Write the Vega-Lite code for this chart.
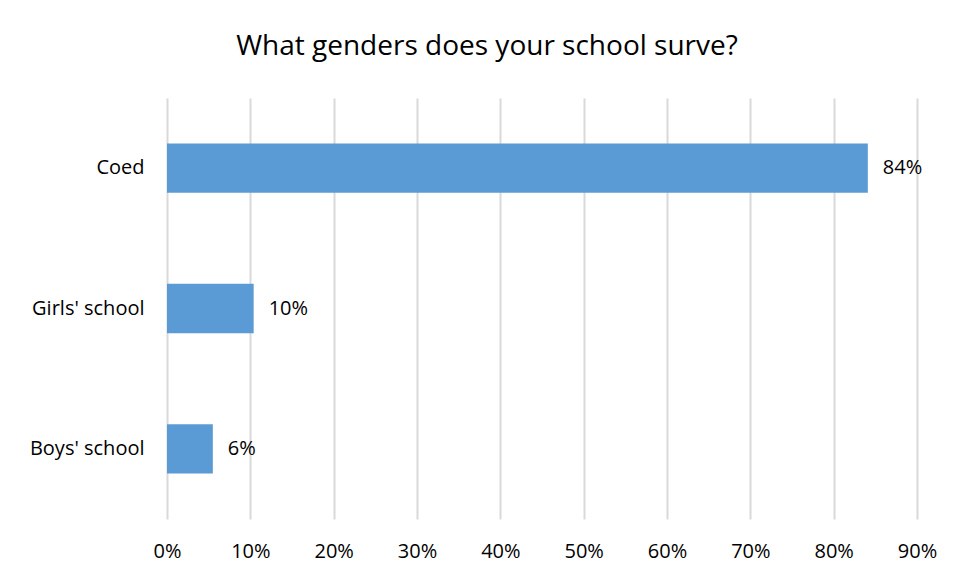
{
  "$schema": "https://vega.github.io/schema/vega-lite/v6.json",
  "autosize": {"type": "none"},
  "padding": {"left": 167, "top": 98, "right": 40, "bottom": 59},
  "width": 750,
  "height": 421,
  "background": "white",
  "config": {"view": {"stroke": null}, "font": "Open Sans"},
  "title": {
    "text": "What genders does your school surve?",
    "font": "Open Sans",
    "fontSize": 28,
    "fontWeight": "normal",
    "color": "#000000",
    "anchor": "middle",
    "frame": "group",
    "dx": -55,
    "baseline": "alphabetic",
    "offset": 15
  },
  "data": {
    "values": [
      {"category": "Coed", "share": 0.841},
      {"category": "Girls' school", "share": 0.104},
      {"category": "Boys' school", "share": 0.055}
    ]
  },
  "encoding": {
    "y": {
      "field": "category",
      "type": "nominal",
      "sort": ["Coed", "Girls' school", "Boys' school"],
      "scale": {"paddingInner": 0.648, "paddingOuter": 0.324},
      "axis": {
        "title": null,
        "domain": false,
        "ticks": false,
        "labelPadding": 23,
        "labelFontSize": 20,
        "labelColor": "#000000",
        "labelFont": "Open Sans"
      }
    },
    "x": {
      "field": "share",
      "type": "quantitative",
      "scale": {"domain": [0, 0.9], "nice": false},
      "axis": {
        "title": null,
        "values": [0, 0.1, 0.2, 0.3, 0.4, 0.5, 0.6, 0.7, 0.8, 0.9],
        "format": ".0%",
        "domain": false,
        "ticks": false,
        "grid": true,
        "gridColor": "#d9d9d9",
        "gridWidth": 2,
        "labelPadding": 22,
        "labelFontSize": 20,
        "labelColor": "#000000",
        "labelFont": "Open Sans",
        "labelFlush": false
      }
    }
  },
  "layer": [
    {"mark": {"type": "bar", "color": "#5b9bd5"}},
    {
      "mark": {"type": "text", "align": "left", "baseline": "middle", "dx": 15, "fontSize": 20, "font": "Open Sans", "color": "#000000"},
      "encoding": {"text": {"field": "share", "type": "quantitative", "format": ".0%"}}
    }
  ]
}
